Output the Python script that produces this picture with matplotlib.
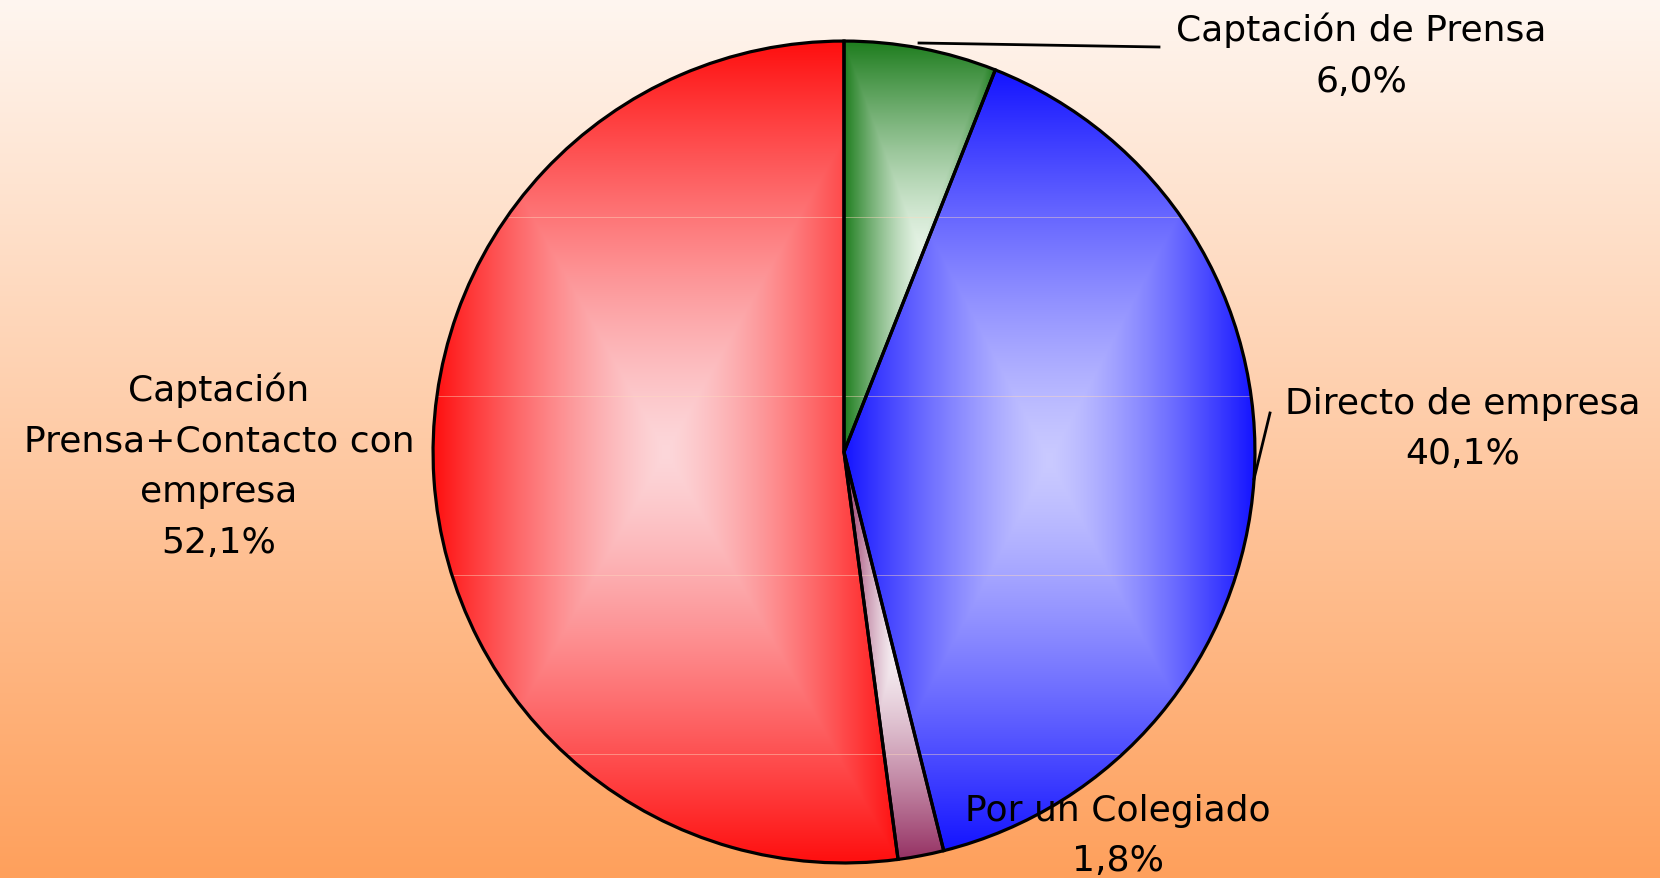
import numpy as np
import matplotlib.pyplot as plt

# data
labels = ['Captación de Prensa', 'Directo de empresa', 'Por un Colegiado',
          'Captación\nPrensa+Contacto con\nempresa']
values = [6.0, 40.1, 1.8, 52.1]
pct_text = ['6,0%', '40,1%', '1,8%', '52,1%']

edge_cols = [(30, 125, 30), (20, 20, 255), (150, 50, 100), (255, 15, 15)]
center_cols = [(228, 242, 228), (202, 202, 255), (246, 238, 242), (252, 215, 218)]

W, H = 1660, 879
fig = plt.figure(figsize=(W / 100, H / 100), dpi=100)

# background gradient
bg = fig.add_axes([0, 0, 1, 1])
top = np.array([254, 246, 240]) / 255
bot = np.array([255, 160, 92]) / 255
yy = np.linspace(0, 1, 400)[:, None]
grad = top[None, :] * (1 - yy) + bot[None, :] * yy
bg.imshow(grad[:, None, :], aspect='auto', extent=[0, 1, 0, 1])
bg.set_xlim(0, 1)
bg.set_ylim(0, 1)
bg.axis('off')

# pie axes, center (844, 453) px, radius 413 px
cx, cy, R = 844, 453, 413
ax = fig.add_axes([(cx - R) / W, (H - cy - R) / H, 2 * R / W, 2 * R / H])
ax.axis('off')

wedges, _ = ax.pie(values, startangle=90, counterclock=False,
                   colors=[np.array(c) / 255 for c in edge_cols],
                   wedgeprops=dict(linewidth=0, zorder=1))

# rectangular "from center" gradient per slice
n = 300
u = np.linspace(-1, 1, n)
U, V = np.meshgrid(u, u)
T = np.maximum(np.abs(U), np.abs(V)) ** 1.3
for w, ce, cc in zip(wedges, edge_cols, center_cols):
    ext = w.get_path().get_extents()
    ce = np.array(ce) / 255
    cc = np.array(cc) / 255
    img = cc[None, None, :] * (1 - T[..., None]) + ce[None, None, :] * T[..., None]
    im = ax.imshow(img, extent=[ext.x0, ext.x1, ext.y0, ext.y1], origin='lower',
                   aspect='auto', zorder=2, interpolation='bilinear')
    im.set_clip_path(w)

# faint band seams across the pie
circ = plt.Circle((0, 0), 1, transform=ax.transData, facecolor='none', edgecolor='none')
ax.add_patch(circ)
for py in [217, 397, 577, 757]:
    yd = (cy - py) / R
    ln, = ax.plot([-1, 1], [yd, yd], color=(1, 0.85, 0.75), lw=0.7, alpha=0.45, zorder=3)
    ln.set_clip_path(circ)

# outlines
ax.pie(values, startangle=90, counterclock=False, colors=['none'] * 4,
       wedgeprops=dict(edgecolor='black', linewidth=2.3, zorder=4))
ax.set_xlim(-1.005, 1.005)
ax.set_ylim(-1.005, 1.005)

# leader lines (figure pixel coords)
def px(x, y):
    return x / W, 1 - y / H

for (x0, y0), (x1, y1) in [((919, 44), (1159, 48)), ((1254, 480), (1270, 414))]:
    a, b = px(x0, y0)
    c, d = px(x1, y1)
    fig.add_artist(plt.Line2D([a, c], [b, d], color='black', lw=2, zorder=5))

fs = 26
lab_pos = [(1361, 56), (1463, 429), (1118, 836), (219, 466)]
for lab, pct, (x, y) in zip(labels, pct_text, lab_pos):
    fig.text(x / W, 1 - y / H, lab + '\n' + pct, ha='center', va='center',
             fontsize=fs, family='DejaVu Sans', linespacing=1.62, zorder=6)

fig.savefig('out.png', dpi=100)
